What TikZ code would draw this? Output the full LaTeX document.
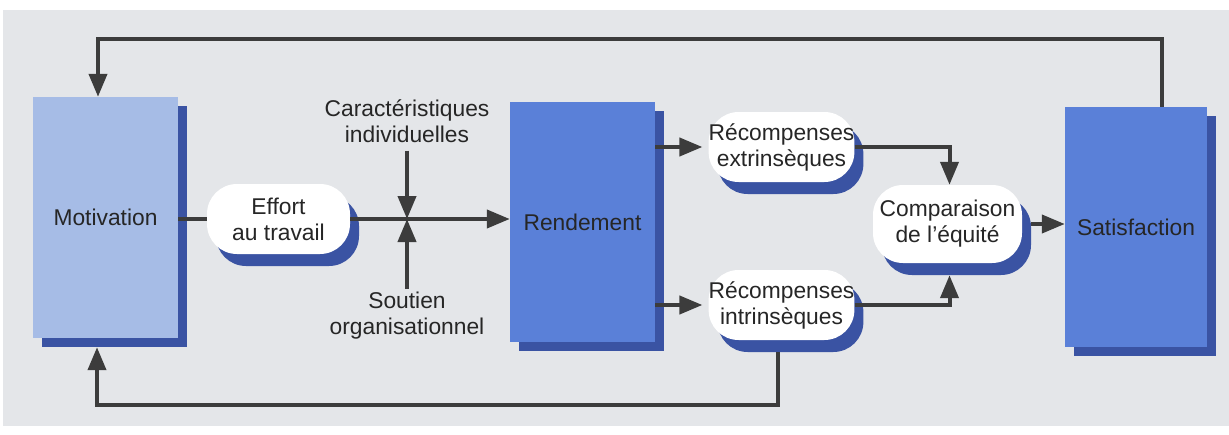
\documentclass[tikz,border=0pt]{standalone}
\usepackage{fontspec}
\setmainfont{Liberation Sans}
\usetikzlibrary{arrows.meta,shadows}
\definecolor{fond}{HTML}{E4E6E9}
\definecolor{bleuclair}{HTML}{A6BCE6}
\definecolor{bleu}{HTML}{5A80D8}
\definecolor{bleufonce}{HTML}{3A53A3}
\definecolor{grisfil}{HTML}{3C3C3C}
\definecolor{texte}{HTML}{262626}
\begin{document}
\begin{tikzpicture}[x=1pt,y=-1pt,>={Triangle[length=23pt,width=18pt]},
	every node/.style={font=\fontsize{22.8}{26}\selectfont,text=texte,align=center,inner sep=0pt},
	bloc/.style={rectangle,minimum width=145pt,minimum height=240pt,fill=bleu,
		drop shadow={shadow xshift=9pt,shadow yshift=-9pt,fill=bleufonce,opacity=1}},
	bulle/.style={rectangle,rounded corners=30pt,fill=white,minimum width=143pt,minimum height=70pt,
		drop shadow={shadow xshift=9pt,shadow yshift=-12pt,fill=bleufonce,opacity=1}},
	fil/.style={draw=grisfil,line width=4pt}]
	\useasboundingbox (0,0) rectangle (1229,434);
	\fill[white] (0,0) rectangle (1229,434);
	\fill[fond] (3,10) rectangle (1229,426);
	\node[bloc,fill=bleuclair,minimum height=241pt] (motiv) at (105.5,217.5) {Motivation};
	\node[bulle] (effort) at (278.5,219) {Effort\\au travail};
	\node (carac) at (407,121) {Caractéristiques\\individuelles};
	\node (soutien) at (407,316) {Soutien\\organisationnel};
	\coordinate (croix) at (407,219);
	\node[bloc] (rend) at (582.5,222) {Rendement};
	\node[bulle] (extr) at (781.5,147) {Récompenses\\extrinsèques};
	\node[bulle] (intr) at (781.5,305) {Récompenses\\intrinsèques};
	\node[bulle,minimum width=149pt,minimum height=78pt] (equite) at (947.5,224) {Comparaison\\de l’équité};
	\node[bloc,minimum width=142pt] (satis) at (1136,227) {Satisfaction};
	\coordinate (haut) at (1162,39);
	\coordinate (hautg) at (98,39);
	\coordinate (basd) at (778,405);
	\coordinate (basg) at (97,405);
	\draw[fil] (motiv.east |- effort.west) -- (effort.west);
	\draw[fil,->] (effort.east) -- (rend.west |- effort.east);
	\draw[fil,->,shorten <=8pt] (carac.south) -- (croix);
	\draw[fil,->,shorten <=3pt] (soutien.north) -- (croix);
	\draw[fil,->,shorten >=6pt] (rend.east |- extr) -- (extr.west);
	\draw[fil,->,shorten >=6pt] (rend.east |- intr) -- (intr.west);
	\draw[fil,->] (extr.east) -| ([xshift=2pt]equite.north);
	\draw[fil,->] (intr.east) -| ([xshift=2pt,yshift=-12pt]equite.south);
	\draw[fil,->] ([xshift=9pt]equite.east) -- (satis.west |- equite.east);
	\draw[fil,->] (satis.north -| haut) -- (haut) -- (hautg) -- (motiv.north -| hautg);
	\draw[fil,->] ([yshift=-12pt]intr.south -| basd) -- (basd) -- (basg) -- ([yshift=-9pt]motiv.south -| basg);
\end{tikzpicture}
\end{document}
